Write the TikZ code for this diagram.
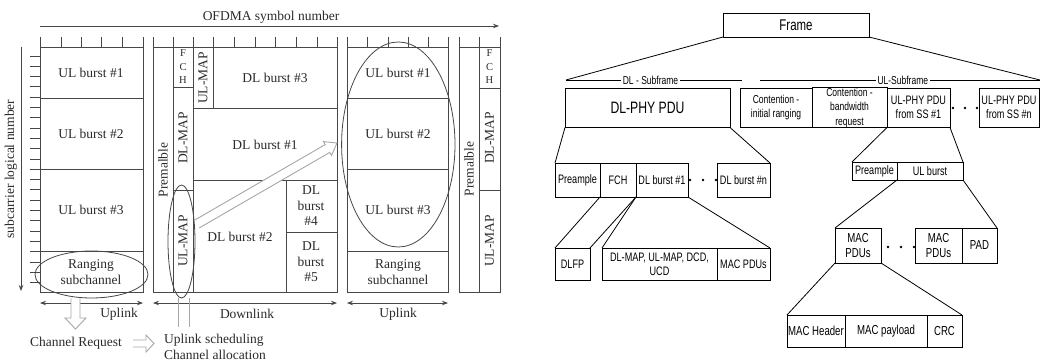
\documentclass[tikz,border=0pt]{standalone}
\usepackage{fontspec}
\setmainfont{Liberation Serif}
\newfontfamily\rfont[FakeStretch=0.74]{Liberation Sans}
\usetikzlibrary{arrows.meta}
\definecolor{lc}{HTML}{474747}
\definecolor{tc}{HTML}{2A2A2A}
\definecolor{ac}{HTML}{A6A6A6}
\newcommand\rbx[7][]{\node[rbox,#1,minimum width={((#4)-(#2))*1pt},minimum height={((#5)-(#3))*1pt}] (#6) at ({((#2)+(#4))/2},{((#3)+(#5))/2}) {#7};}
\begin{document}
\begin{tikzpicture}[x=1pt,y=-1pt,
  ln/.style={draw=lc,line width=0.8pt},
  lt/.style={font={\fontsize{13.5}{15.5}\selectfont},text=tc,inner sep=0pt,align=center},
  ltr/.style={lt,rotate=90},
  hol/.style={draw=ac,line width=0.9pt,fill=white},
  tipL/.style={-{Stealth[length=6pt,width=4.5pt]}},
  rbox/.style={draw=black,line width=0.8pt,inner sep=0pt,outer sep=0pt,align=center,
    font={\rfont\fontsize{12.3}{14}\selectfont}},
  rl/.style={draw=black,line width=0.8pt},
  rsm/.style={font={\rfont\fontsize{11.5}{14.5}\selectfont}},
  rbig/.style={font={\rfont\fontsize{16.5}{18}\selectfont}},
  rfr/.style={font={\rfont\fontsize{15.5}{18}\selectfont}},
  rtall/.style={font={\rfont\fontsize{13}{15.5}\selectfont}},
  sublab/.style={fill=white,inner sep=1.5pt,font={\rfont\fontsize{11.5}{13}\selectfont}},
  dot/.style={fill=black}]
\useasboundingbox (0,0) rectangle (1042,363);

% ---------------- left: OFDMA frame ----------------
\coordinate (axL) at (40,26); \coordinate (axR) at (499,26);
\draw[ln,tipL] (axL) -- (axR);
\node[lt] (ofdma) at (271,17) {OFDMA symbol number};
\coordinate (vaT) at (21,47); \coordinate (vaB) at (21,291);
\draw[ln,tipL] (vaT) -- (vaB);
\node[ltr] (subc) at (11,169) {subcarrier logical number};
\foreach \k in {0,...,22} \draw[ln] (30,{56+10.3*\k}) -- (40,{56+10.3*\k});

% block 1 (uplink)
\draw[ln] (40,37) -- (40,292) -- (143,292) -- (143,37);
\draw[ln] (40,47) -- (143,47);
\foreach \x in {61,81,101,122} \draw[ln] (\x,37) -- (\x,47);
\foreach \y in {98,169,251} \draw[ln] (40,\y) -- (143,\y);
\node[lt] (a1) at (91,73) {UL burst \#1};
\node[lt] (a2) at (91,134) {UL burst \#2};
\node[lt] (a3) at (91,210) {UL burst \#3};
\node[lt] (a4) at (91,272) {Ranging\\subchannel};
\draw[lc,line width=0.8pt] (91.5,274.5) ellipse [x radius=56.5pt, y radius=23.5pt];

% block 2 (downlink)
\draw[ln] (153,37) -- (153,292) -- (337,292) -- (337,37);
\draw[ln] (153,47) -- (337,47);
\foreach \x in {173,193,213,234,255,275,296,317} \draw[ln] (\x,37) -- (\x,47);
\draw[ln] (173,47) -- (173,292);
\draw[ln] (193,47) -- (193,292);
\draw[ln] (173,87) -- (193,87);
\draw[ln] (173,190) -- (193,190);
\draw[ln] (213,47) -- (213,108);
\draw[ln] (193,108) -- (337,108);
\draw[ln] (193,180) -- (337,180);
\draw[ln] (286,180) -- (286,292);
\draw[ln] (286,232) -- (337,232);
\node[ltr] (pre2) at (163,170) {Premalble};
\node[lt,font={\fontsize{10.5}{13.5}\selectfont}] (fch2) at (183,67) {F\\C\\H};
\node[ltr] (dlm2) at (183,138) {DL-MAP};
\node[ltr] (ulm2a) at (203,78) {UL-MAP};
\node[ltr] (ulm2b) at (183,241) {UL-MAP};
\node[lt] (d3) at (275,78) {DL burst \#3};
\node[lt] (d1) at (265,145) {DL burst \#1};
\node[lt] (d2) at (240,237) {DL burst \#2};
\node[lt] (d4) at (311,206) {DL\\burst\\\#4};
\node[lt] (d5) at (311,262) {DL\\burst\\\#5};

% diagonal hollow arrow
\filldraw[hol] (194.7,220.1) -- (325.2,144.6) -- (323.5,141.6) -- (337,143) -- (331.5,155.4) -- (329.8,152.4) -- (199.3,227.9);
\draw[lc,line width=0.8pt] (181.5,241.5) ellipse [x radius=13.5pt, y radius=56.5pt];

% block 3 (uplink)
\draw[ln] (347,37) -- (347,292) -- (448,292) -- (448,37);
\draw[ln] (347,47) -- (448,47);
\foreach \x in {367,388,408,428} \draw[ln] (\x,37) -- (\x,47);
\foreach \y in {98,169,251} \draw[ln] (347,\y) -- (448,\y);
\node[lt] (b1) at (398,73) {UL burst \#1};
\node[lt] (b2) at (398,134) {UL burst \#2};
\node[lt] (b3) at (398,210) {UL burst \#3};
\node[lt] (b4) at (398,272) {Ranging\\subchannel};
\draw[lc,line width=0.8pt] (398.3,144.5) ellipse [x radius=56.7pt, y radius=102.5pt];

% block 4 (partial)
\draw[ln] (459,37) -- (459,292) -- (500,292) -- (500,37);
\draw[ln] (459,47) -- (500,47);
\draw[ln] (479,37) -- (479,292);
\draw[ln] (479,88) -- (500,88);
\draw[ln] (479,190) -- (500,190);
\node[ltr] (pre4) at (469,169) {Premalble};
\node[lt,font={\fontsize{10.5}{13.5}\selectfont}] (fch4) at (489.5,67) {F\\C\\H};
\node[ltr] (dlm4) at (489.5,138) {DL-MAP};
\node[ltr] (ulm4) at (489.5,241) {UL-MAP};

% span arrows
\coordinate (u1L) at (40,303); \coordinate (u1R) at (143,303);
\coordinate (dnL) at (153,303); \coordinate (dnR) at (337,303);
\coordinate (u2L) at (347,303); \coordinate (u2R) at (448,303);
\draw[ln,{Stealth[length=6pt,width=4.5pt]}-{Stealth[length=6pt,width=4.5pt]}] (u1L) -- (u1R);
\draw[ln,{Stealth[length=6pt,width=4.5pt]}-{Stealth[length=6pt,width=4.5pt]}] (dnL) -- (dnR);
\draw[ln,{Stealth[length=6pt,width=4.5pt]}-{Stealth[length=6pt,width=4.5pt]}] (u2L) -- (u2R);
\node[lt] (upl1) at (119,314) {Uplink};
\node[lt] (dnl) at (247,314) {Downlink};
\node[lt] (upl2) at (398,314) {Uplink};

% bottom annotations
\filldraw[hol] (71,298.5) -- (71,318) -- (65,318) -- (75.5,329) -- (86,318) -- (80,318) -- (80,298.5);
\node[lt] (chreq) at (76,343) {Channel Request};
\draw[ac,line width=0.9pt] (133,340) -- (146,340) -- (146,335) -- (154,343.5) -- (146,352) -- (146,347) -- (133,347);
\draw[ac,line width=0.9pt] (178,298.5) -- (178,327);
\draw[ac,line width=0.9pt] (189,298.5) -- (189,327);
\node[lt,anchor=west,align=left] (sched) at (164,347) {Uplink scheduling\\Channel allocation};

% ---------------- right: frame structure ----------------
\rbx[rfr]{723}{13}{869}{37}{frame}{Frame}
\coordinate (dlL) at (566,80); \coordinate (dlR) at (742,80);
\coordinate (ulL) at (760,80); \coordinate (ulR) at (1040,80);
\draw[rl] (frame.south west) -- (dlL);
\draw[rl] (frame.south east) -- (ulR);
\draw[rl] (dlL) -- node[sublab,pos=0.48] (dlsub) {DL - Subframe} (dlR);
\draw[rl] (ulL) -- node[sublab,pos=0.51] (ulsub) {UL-Subframe} (ulR);

\rbx[rbig]{565}{88}{730}{127.5}{dlphy}{DL-PHY PDU}
\rbx[rsm]{740}{88}{812}{127.5}{cir}{Contention -\\initial ranging}
\rbx[rsm]{812}{88}{887}{127.5}{cbr}{Contention -\\bandwidth\\request}
\rbx{887}{88}{950}{127.5}{ul1}{UL-PHY PDU\\from SS \#1}
\rbx{979}{88}{1039}{127.5}{uln}{UL-PHY PDU\\from SS \#n}
\foreach \x in {953,965,977} \fill[dot] (\x,108) circle (1.3pt);

\rbx{555}{163}{600}{197}{preD}{Preample}
\rbx{600}{163}{636}{197}{fch}{FCH}
\rbx{636}{163}{688}{197}{dlb1}{DL burst \#1}
\rbx{717}{163}{770}{197}{dlbn}{DL burst \#n}
\foreach \x in {690,703,716} \fill[dot] (\x,180) circle (1.3pt);
\draw[rl] (dlphy.south west) -- (preD.north west);
\draw[rl] (dlphy.south east) -- (dlbn.north east);

\rbx{555}{248}{590}{280}{dlfp}{DLFP}
\rbx{602}{248}{717}{280}{maps}{DL-MAP, UL-MAP, DCD,\\UCD}
\rbx{717}{248}{770}{280}{macpd}{MAC PDUs}
\draw[rl] (fch.south west) -- (dlfp.north west);
\draw[rl] (fch.south east) -- (dlfp.north east);
\draw[rl] (dlb1.south west) -- (maps.north west);
\draw[rl] (dlb1.south east) -- (macpd.north east);

\rbx{852}{162}{897}{180}{preU}{Preample}
\rbx{897}{162}{963}{180}{ulb}{UL burst}
\draw[rl] (ul1.south west) -- (preU.north west);
\draw[rl] (ul1.south east) -- (ulb.north east);

\rbx[rtall]{835}{228}{881}{263}{mac1}{MAC\\PDUs}
\rbx[rtall]{915}{228}{962}{263}{mac2}{MAC\\PDUs}
\rbx[rtall]{962}{228}{997}{263}{pad}{PAD}
\foreach \x in {888,901,914} \fill[dot] (\x,247) circle (1.3pt);
\draw[rl] (ulb.south west) -- (mac1.north west);
\draw[rl] (ulb.south east) -- (pad.north east);

\rbx[rtall]{787}{315}{845}{347}{mach}{MAC Header}
\rbx[rtall]{845}{315}{927}{347}{macp}{MAC payload}
\rbx[rtall]{927}{315}{962}{347}{crc}{CRC}
\draw[rl] (mac1.south west) -- (mach.north west);
\draw[rl] (mac1.south east) -- (crc.north east);
\end{tikzpicture}
\end{document}
